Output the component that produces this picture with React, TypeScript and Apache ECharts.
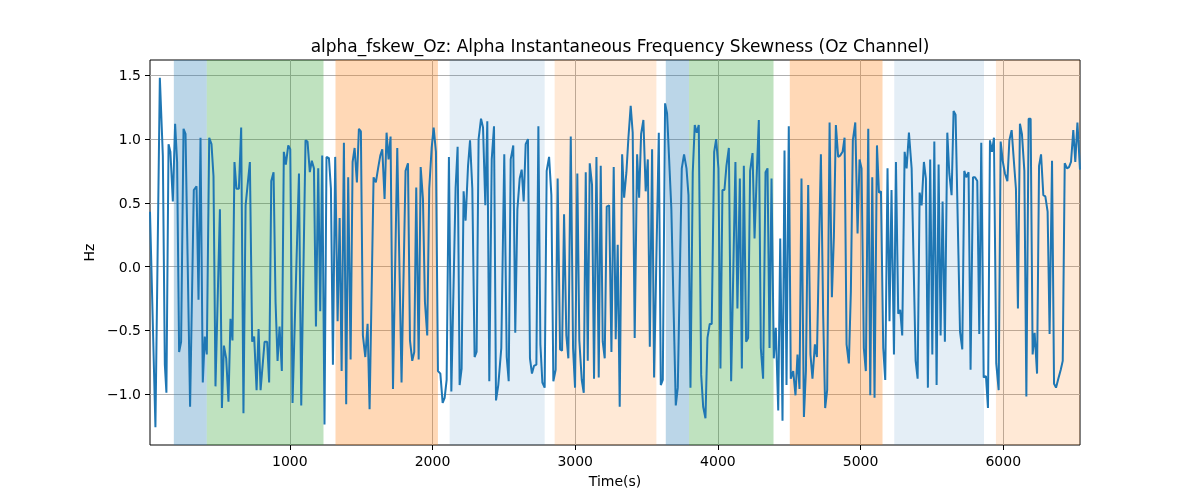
import * as echarts from "echarts";
import { useEffect, useRef } from "react";

// time stamps (s) and alpha frequency skewness values
const times = [
  20, 58, 89, 110, 124, 135, 150, 163, 180, 196, 210, 224, 238, 255, 269, 301, 327, 346, 360, 374,
  390, 404, 418, 435, 451, 465, 479, 510, 524, 538, 554, 570, 584, 598, 612, 626, 643, 659, 675, 690,
  720, 736, 750, 767, 781, 795, 823, 841, 855, 870, 886, 900, 914, 928, 944, 958, 972, 989, 1003, 1019,
  1064, 1080, 1110, 1124, 1140, 1154, 1169, 1183, 1199, 1213, 1227, 1243, 1257, 1274, 1288, 1302, 1318, 1335, 1349, 1363,
  1379, 1395, 1409, 1426, 1440, 1454, 1470, 1484, 1498, 1512, 1529, 1545, 1559, 1587, 1603, 1620, 1634, 1648, 1664, 1678,
  1692, 1706, 1723, 1753, 1783, 1811, 1828, 1842, 1858, 1872, 1886, 1903, 1917, 1933, 1947, 1963, 1977, 1994, 2008, 2024,
  2038, 2055, 2071, 2085, 2099, 2115, 2132, 2162, 2176, 2190, 2204, 2218, 2232, 2249, 2263, 2279, 2295, 2309, 2323, 2340,
  2354, 2370, 2384, 2398, 2415, 2431, 2445, 2461, 2482, 2503, 2520, 2534, 2548, 2566, 2580, 2595, 2611, 2625, 2639, 2653,
  2669, 2683, 2697, 2711, 2728, 2742, 2756, 2770, 2786, 2800, 2817, 2833, 2847, 2863, 2877, 2894, 2908, 2922, 2938, 2952,
  2969, 2985, 2999, 3015, 3029, 3046, 3060, 3074, 3088, 3102, 3118, 3132, 3149, 3165, 3179, 3193, 3207, 3221, 3238, 3254,
  3270, 3284, 3298, 3312, 3329, 3343, 3359, 3373, 3389, 3403, 3417, 3434, 3448, 3462, 3478, 3494, 3509, 3523, 3539, 3553,
  3586, 3600, 3614, 3630, 3644, 3674, 3705, 3719, 3747, 3763, 3780, 3794, 3808, 3824, 3838, 3852, 3866, 3883, 3897, 3913,
  3927, 3943, 3957, 3974, 3988, 4004, 4018, 4032, 4046, 4060, 4077, 4093, 4123, 4137, 4154, 4168, 4182, 4198, 4212, 4226,
  4243, 4257, 4273, 4287, 4301, 4317, 4334, 4348, 4362, 4376, 4392, 4406, 4423, 4437, 4453, 4467, 4481, 4497, 4511, 4528,
  4544, 4558, 4572, 4586, 4603, 4617, 4633, 4649, 4663, 4680, 4694, 4722, 4738, 4752, 4766, 4783, 4799, 4813, 4827, 4843,
  4857, 4874, 4888, 4902, 4918, 4932, 4946, 4963, 4979, 4993, 5007, 5023, 5037, 5054, 5068, 5082, 5098, 5115, 5129, 5143,
  5159, 5173, 5189, 5203, 5217, 5234, 5248, 5264, 5278, 5292, 5309, 5323, 5339, 5358, 5386, 5400, 5414, 5428, 5444, 5458,
  5472, 5488, 5503, 5517, 5533, 5547, 5561, 5575, 5591, 5608, 5622, 5638, 5652, 5666, 5697, 5713, 5727, 5741, 5757, 5771,
  5788, 5802, 5818, 5832, 5846, 5863, 5879, 5893, 5907, 5921, 5935, 5951, 5968, 5982, 5996, 6012, 6029, 6043, 6059, 6075,
  6089, 6103, 6117, 6131, 6148, 6162, 6178, 6192, 6206, 6220, 6237, 6251, 6265, 6281, 6295, 6311, 6325, 6342, 6356, 6370,
  6386, 6403, 6417, 6431, 6447, 6461, 6475, 6491, 6505, 6520, 6538
];

const skew = [
  0.43, -1.26, 1.48, 0.87, -0.77, -0.99, 0.96, 0.9, 0.51, 1.12, 0.82, -0.67, -0.59, 1.08, 1.04, -1.1, 0.6, 0.63, -0.26, 1.01,
  -0.91, -0.55, -0.69, 1.01, 0.96, 0.71, -0.94, 0.45, -1.11, -0.62, -0.72, -1.06, -0.41, -0.58, 0.82, 0.61, 0.61, 1.09, -1.15, 0.48,
  0.82, -0.59, -0.55, -0.97, -0.49, -0.97, -0.59, -0.59, -0.91, 0.67, 0.74, -0.28, -0.74, -0.47, -0.82, 0.9, 0.8, 0.95, 0.92, -1.07,
  0.73, -1.09, 0.99, 0.98, 0.74, 0.83, 0.77, -0.47, 0.77, -0.35, 0.87, -1.24, 0.86, 0.85, 0.61, -0.77, 0.86, -0.43, 0.38, -0.82,
  0.97, -1.08, 0.7, -0.73, 0.82, 0.93, 0.66, 1.08, 1.06, -0.54, -0.71, -0.45, -1.12, 0.7, 0.66, 0.78, 0.87, 0.92, 0.53, 1.05,
  0.84, 1.02, -0.96, 0.93, -0.91, 0.75, 0.81, -0.58, -0.74, -0.67, 0.62, -0.73, 0.78, 0.53, -0.28, -0.54, 0.61, 0.93, 1.09, 0.9,
  -0.82, -0.84, -1.07, -1.03, -0.89, 0.86, -0.98, 0.62, 0.94, -0.93, -0.8, 0.59, 0.36, 0.79, 0.99, 0.61, -0.71, -0.67, 1.0, 1.16,
  1.09, 0.48, 1.14, -0.9, 0.84, 1.1, -1.05, -0.93, -0.64, 0.88, -0.71, -0.9, 0.84, 0.95, -0.52, 0.45, 0.69, 0.76, 0.51, 0.96,
  1.0, -0.72, -0.84, -0.78, -0.77, 1.1, -0.61, -0.91, -0.95, 0.75, 0.86, 0.56, -0.9, -0.81, 0.69, -0.65, -0.66, 0.41, -0.54, -0.72,
  1.02, -0.64, -0.95, 0.73, -0.58, -0.89, -0.99, 0.74, -0.74, 0.81, 0.64, -0.88, 0.86, -0.87, 0.79, -0.59, -0.72, 0.47, 0.48, -0.67,
  0.78, -0.57, 0.17, -1.1, 0.88, 0.54, 0.74, 1.01, 1.26, 1.05, -0.56, 0.88, 0.54, 1.04, 1.15, 0.59, 0.84, -0.63, 0.92, -0.87,
  1.05, -0.93, -0.89, 1.28, 1.2, 0.45, -1.09, -0.95, 0.77, 0.88, 0.77, 0.56, -0.95, 0.74, 1.11, 1.05, 1.11, -0.85, -1.1, -1.19,
  -0.56, -0.45, -0.45, 0.9, 1.0, 0.77, -0.8, 0.6, 0.6, 0.79, 0.93, -0.9, 0.82, -0.33, 0.69, -0.8, 0.79, -0.59, -0.56, 0.75,
  0.89, 0.22, 0.74, 1.15, -0.64, -0.88, 0.74, 0.77, -0.64, 0.69, -0.72, -0.48, -1.13, 0.22, -1.21, 0.91, -0.93, 1.1, -0.88, -0.82,
  -1.01, -0.69, -0.96, 0.69, -1.18, -0.82, 0.64, -0.69, -0.88, -0.61, -0.71, 0.88, -0.38, -1.11, -0.97, 1.13, -0.24, 0.23, 1.11, 0.86,
  0.87, 0.9, 1.01, -0.61, -0.76, -0.2, 0.99, 1.13, 0.26, 0.84, 0.77, -0.64, -0.82, 1.08, -1.01, 0.7, -1.03, 0.95, 0.58, 0.59,
  -0.64, -0.89, 0.77, -0.43, 0.6, -0.69, 0.82, -0.37, -0.34, -0.54, 0.9, 0.77, 1.05, 0.77, -0.74, -0.88, 0.58, 0.48, 0.82, 0.69,
  -0.95, 0.84, -0.69, 0.98, -0.93, 0.8, -0.54, 0.51, -0.59, 1.05, 0.73, 0.56, 1.22, 1.19, -0.51, -0.65, 0.75, 0.7, 0.74, -0.81,
  0.7, 0.7, 0.67, -0.53, 0.97, -0.87, -0.86, -1.11, 0.99, 0.9, 1.01, -0.76, -0.97, 0.98, 0.83, 0.73, 0.67, 0.99, 1.07, 0.82,
  0.61, -0.33, 1.12, 1.04, 0.75, -1.02, 1.16, 1.16, -0.69, -0.52, -0.84, 0.79, 0.88, 0.56, 0.55, 0.43, -0.53, 0.83, -0.92, -0.95,
  -0.88, -0.81, -0.74, 0.81, 0.77, 0.78, 0.82, 1.07, 0.82, 1.13, 0.76
];

// shaded state intervals (s)
const bandStarts = [187, 418, 1320, 2120, 2856, 3635, 3798, 4504, 5236, 5949];
const bandEnds = [418, 1236, 2038, 2786, 3569, 3798, 4390, 5154, 5865, 6538];
const bandColors = [
  "rgba(31,119,180,0.3)",
  "rgba(44,160,44,0.3)",
  "rgba(255,127,14,0.3)",
  "rgba(31,119,180,0.12)",
  "rgba(255,127,14,0.17)",
  "rgba(31,119,180,0.3)",
  "rgba(44,160,44,0.3)",
  "rgba(255,127,14,0.3)",
  "rgba(31,119,180,0.12)",
  "rgba(255,127,14,0.17)"
];

const xTicks = [1000, 2000, 3000, 4000, 5000, 6000];
const yTicks = [-1, -0.5, 0, 0.5, 1, 1.5];

const FONT = "DejaVu Sans";

export default function App() {
  const chartRef = useRef<HTMLDivElement>(null);

  useEffect(() => {
    if (!chartRef.current) return;
    const chart = echarts.init(chartRef.current, null, { renderer: "svg" });

    const bands = bandStarts.map((s, i) => [
      { xAxis: s, itemStyle: { color: bandColors[i] } },
      { xAxis: bandEnds[i] }
    ]);

    const option: echarts.EChartsOption = {
      animation: false,
      title: {
        text: "alpha_fskew_Oz: Alpha Instantaneous Frequency Skewness (Oz Channel)",
        left: 615,
        top: 32,
        textAlign: "center",
        textStyle: { fontFamily: FONT, fontSize: 17, fontWeight: "normal", color: "#000" }
      },
      grid: {
        left: 150,
        top: 60,
        width: 930,
        height: 385,
        show: true,
        borderColor: "#000",
        borderWidth: 1,
        backgroundColor: "transparent",
        z: 1
      },
      xAxis: {
        type: "value",
        min: 20,
        max: 6538,
        z: 1,
        name: "Time(s)",
        nameLocation: "middle",
        nameGap: 29,
        nameTextStyle: { fontFamily: FONT, fontSize: 14, color: "#000" },
        axisLine: { show: false, onZero: false },
        axisTick: {
          show: true,
          inside: false,
          length: 5,
          lineStyle: { color: "#000" },
          customValues: xTicks
        } as any,
        axisLabel: {
          customValues: xTicks,
          color: "#000",
          fontFamily: FONT,
          fontSize: 14,
          margin: 9,
          formatter: (v: number) => String(v)
        } as any,
        splitLine: { show: true, lineStyle: { color: "#b0b0b0", width: 1 } }
      },
      yAxis: {
        type: "value",
        min: -1.4,
        max: 1.62,
        z: 1,
        name: "Hz",
        nameLocation: "middle",
        nameGap: 50,
        nameTextStyle: { fontFamily: FONT, fontSize: 14, color: "#000" },
        axisLine: { show: false, onZero: false },
        axisTick: {
          show: true,
          inside: false,
          length: 5,
          lineStyle: { color: "#000" },
          customValues: yTicks
        } as any,
        axisLabel: {
          customValues: yTicks,
          color: "#000",
          fontFamily: FONT,
          fontSize: 14,
          margin: 9,
          formatter: (v: number) => v.toFixed(1).replace("-", "\u2212")
        } as any,
        splitLine: { show: true, lineStyle: { color: "#b0b0b0", width: 1 } }
      },
      series: [
        {
          type: "line",
          data: [],
          z: 0,
          silent: true,
          markArea: { silent: true, data: bands as any }
        },
        {
          type: "line",
          data: times.map((t, i) => [t, skew[i]]),
          showSymbol: false,
          z: 2,
          lineStyle: { color: "#1f77b4", width: 2 },
          itemStyle: { color: "#1f77b4" }
        }
      ]
    };

    chart.setOption(option);

    return () => {
      chart.dispose();
    };
  }, []);

  return (
    <div
      ref={chartRef}
      style={{ position: "fixed", left: 0, top: 0, width: 1200, height: 500 }}
    />
  );
}
